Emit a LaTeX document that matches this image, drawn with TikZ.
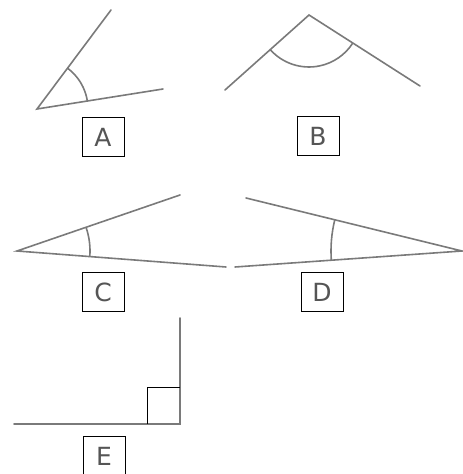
\documentclass[tikz,border=0pt]{standalone}
\usepackage{fontspec}
\setmainfont{DejaVu Sans}
\usetikzlibrary{angles}
\definecolor{ray}{HTML}{7A7A7A}
\definecolor{lettr}{HTML}{555555}
\tikzset{
  ray/.style={draw=ray, line width=1.6pt, line cap=round},
  arcmark/.style={draw=ray, line width=1.6pt},
  tag/.style={draw=black, line width=0.9pt, minimum width=42pt, minimum height=39pt,
    inner sep=0pt, text=lettr, font=\fontsize{25}{25}\selectfont},
}
\begin{document}
\begin{tikzpicture}[x=1pt,y=1pt]
\useasboundingbox (0,0) rectangle (463,474);
% A
\coordinate (AV) at (37,365);
\coordinate (AU) at (111,464);
\coordinate (AL) at (163,385);
\draw[ray] (AU) -- (AV) -- (AL);
\pic[arcmark, angle radius=51pt] {angle = AL--AV--AU};
\node[tag] (tA) at (103,337) {A};
% B
\coordinate (BP) at (309,459);
\coordinate (BL) at (225,384);
\coordinate (BR) at (420,388);
\draw[ray] (BL) -- (BP) -- (BR);
\pic[arcmark, angle radius=52pt] {angle = BL--BP--BR};
\node[tag] (tB) at (318,338) {B};
% C
\coordinate (CV) at (17,223);
\coordinate (CU) at (180,279);
\coordinate (CL) at (226,207);
\draw[ray] (CU) -- (CV) -- (CL);
\pic[arcmark, angle radius=73pt] {angle = CL--CV--CU};
\node[tag] (tC) at (103,182) {C};
% D
\coordinate (DV) at (462,223);
\coordinate (DU) at (246,276);
\coordinate (DL) at (235,207);
\draw[ray] (DU) -- (DV) -- (DL);
\pic[arcmark, angle radius=131pt] {angle = DU--DV--DL};
\node[tag] (tD) at (322,182) {D};
% E
\coordinate (EC) at (180,50);
\coordinate (ET) at (180,156);
\coordinate (EL) at (14,50);
\draw[ray] (ET) -- (EC) -- (EL);
\draw[black, line width=1pt] (147,50) -- (147,86) -- (180,86);
\node[tag] (tE) at (104,18) {E};
\end{tikzpicture}
\end{document}
